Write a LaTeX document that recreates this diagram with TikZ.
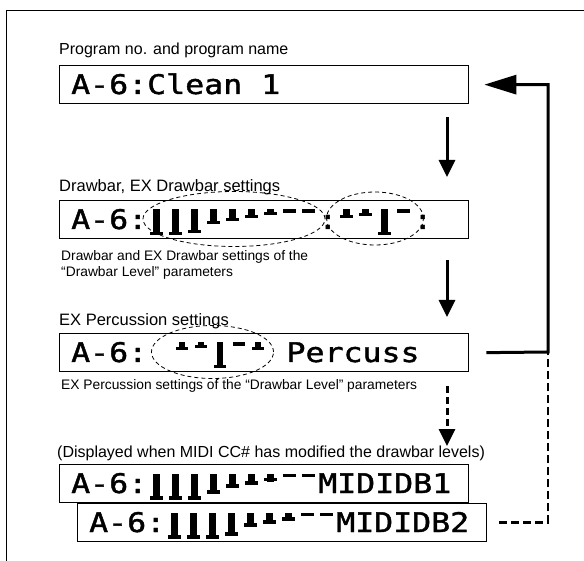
\documentclass[tikz,border=0pt]{standalone}
\usepackage{fontspec}
\setmainfont{Liberation Sans}
\newfontfamily\lcdfont[FakeStretch=1.169,FakeBold=1.5]{DejaVu Sans Mono}
\usetikzlibrary{arrows.meta,shapes.geometric}
\newlength\lcdcw \setlength\lcdcw{19pt}
% drawbar glyph: #1 = length in pt, hanging from the top of the character cell
\newcommand\dbar[1]{\makebox[\lcdcw][c]{%
  \makebox[0pt][c]{\rule[\dimexpr 19.5pt-#1pt\relax]{6.5pt}{#1pt}}%
  \makebox[0pt][c]{\rule[\dimexpr 19.5pt-#1pt\relax]{12.5pt}{3.5pt}}}}
\begin{document}
\begin{tikzpicture}[x=1pt,y=-1pt,
  lcdbox/.style={draw, line width=1.3pt, minimum width=409pt, minimum height=38pt, inner sep=0pt, anchor=north west},
  lcd/.style={font=\lcdfont\fontsize{27}{27}\selectfont, anchor=base west, inner sep=0pt},
  lbl/.style={font=\fontsize{16.5}{19}\selectfont, anchor=base west, inner sep=0pt},
  small/.style={font=\fontsize{16}{18}\selectfont, anchor=base west, inner sep=0pt},
  note/.style={font=\fontsize{13.8}{16}\selectfont, anchor=base west, inner sep=0pt},
  flow/.style={line width=3pt, -{Triangle[length=17pt,width=16pt]}},
  flowdash/.style={flow, dash pattern=on 7pt off 4pt},
  ring/.style={ellipse, draw, dash pattern=on 4pt off 3pt, line width=0.8pt, inner sep=0pt},
  back/.style={line width=3pt, line join=miter},
]
\useasboundingbox (0,0) rectangle (584,561);
% frame
\draw[line width=1pt] (584,11) -- (6,11) -- (6,561);

% 1: program name
\node[lbl, font=\fontsize{16}{19}\selectfont] (l1) at (59,55) {Program no. and program name};
\node[lcdbox] (b1) at (59,65) {};
\node[lcd] (t1) at (71,94) {A-6:Clean 1};

% 2: drawbar settings
\node[lbl] (l2) at (59,192) {Drawbar, EX Drawbar settings};
\node[lcdbox] (b2) at (59,200) {};
\node[lcd] (t2) at (71,229) {A-6:\dbar{26}\dbar{26}\dbar{24}\dbar{15}\dbar{12}\dbar{9}\dbar{6}\dbar{3.5}\dbar{3.5}:\dbar{9}\dbar{7}\dbar{26}\dbar{3.5}:};
\node[ring, minimum width=182pt, minimum height=55pt] (e1) at (234,219) {};
\node[ring, minimum width=97pt, minimum height=53pt] (e2) at (375,218.5) {};
\node[note] (n2a) at (61,261) {Drawbar and EX Drawbar settings of the};
\node[note] (n2b) at (61,277) {``Drawbar Level'' parameters};

% 3: percussion
\node[lbl] (l3) at (59,326) {EX Percussion settings};
\node[lcdbox] (b3) at (59,333) {};
\node[lcd] (t3) at (71,362) {A-6: \dbar{8}\dbar{6}\dbar{26}\dbar{3.5}\dbar{8}   Percuss};
\node[ring, minimum width=122pt, minimum height=53pt] (e3) at (212.5,352) {};
\node[note] (n3) at (61,390) {EX Percussion settings of the ``Drawbar Level'' parameters};

% 4: MIDI
\node[small] (l4) at (57,457) {(Displayed when MIDI CC\# has modified the drawbar levels)};
\node[lcdbox] (b4) at (59,464) {};
\node[lcd] (t4) at (71,493) {A-6:\dbar{26}\dbar{26}\dbar{26}\dbar{20}\dbar{14}\dbar{11}\dbar{8}\dbar{3.5}\dbar{3.5}MIDIDB1};
\node[lcdbox] (b5) at (77,503) {};
\node[lcd] (t5) at (89,532) {A-6:\dbar{26}\dbar{26}\dbar{26}\dbar{23}\dbar{14}\dbar{11}\dbar{8}\dbar{3.5}\dbar{3.5}MIDIDB2};

% flow arrows
\coordinate (a1s) at (447,117);
\coordinate (a1e) at (447,177);
\coordinate (a2s) at (447,260);
\coordinate (a2e) at (447,317);
\coordinate (a3s) at (447,386);
\coordinate (a3e) at (447,446);
\draw[flow] (a1s) -- (a1e);
\draw[flow] (a2s) -- (a2e);
\draw[flowdash] (a3s) -- (a3e);

% return path
\coordinate (corner) at (548,352);
\draw[back, -{Triangle[length=32pt,width=19pt]}] ([xshift=17pt]b3.east) -- (corner) |- ([xshift=15pt]b1.east);
\draw[line width=2.5pt, dash pattern=on 8pt off 4pt] ([xshift=12pt]b5.east) -| (corner);
\end{tikzpicture}
\end{document}
